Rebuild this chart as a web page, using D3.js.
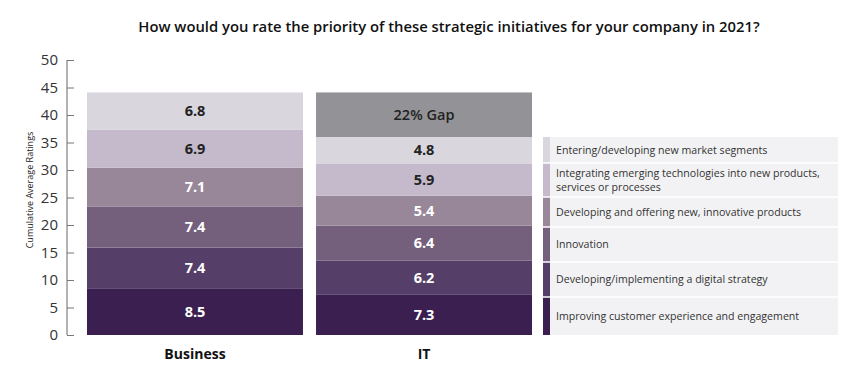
<!DOCTYPE html>
<html>
<head>
<meta charset="utf-8">
<script src="https://cdn.jsdelivr.net/npm/d3@7"></script>
<style>
  body { margin: 0; background: #fff; }
  text { font-family: "Open Sans", sans-serif; }
</style>
</head>
<body>
<svg id="chart" width="857" height="388"></svg>
<script>
// data, bottom segment first
var groups = ["Business", "IT"];
var initiatives = [
    "Improving customer experience and engagement",
    "Developing/implementing a digital strategy",
    "Innovation",
    "Developing and offering new, innovative products",
    "Integrating emerging technologies into new products,|services or processes",
    "Entering/developing new market segments"
];
var businessValues = [8.5, 7.4, 7.4, 7.1, 6.9, 6.8];
var itValues = [7.3, 6.2, 6.4, 5.4, 5.9, 4.8];
var gapLabel = "22% Gap";
var yTicks = [0, 5, 10, 15, 20, 25, 30, 35, 40, 45, 50];

var colors = ["#3a1f50", "#553e67", "#74607d", "#978799", "#c4bacb", "#d9d6de"];
var textColors = ["#fff", "#fff", "#fff", "#fff", "#222", "#222"];
var gapColor = "#939397";

var svg = d3.select("#chart");

var y = d3.scaleLinear().domain([0, 50]).range([335, 60]);
var x = d3.scaleBand().domain(groups).range([87, 532]).paddingInner(0.057).paddingOuter(0);

// title
svg.append("text")
    .attr("x", 449).attr("y", 32)
    .attr("text-anchor", "middle")
    .attr("font-size", 14.8).attr("font-weight", 600).attr("fill", "#111")
    .text("How would you rate the priority of these strategic initiatives for your company in 2021?");

// y axis
var yAxis = d3.axisRight(y).tickValues(yTicks).tickSize(7).tickFormat(d3.format("d"));
var ax = svg.append("g").attr("transform", "translate(67,0)").call(yAxis);
ax.select(".domain").attr("stroke", "#666").attr("d", "M0," + y(50) + "V" + y(0));
ax.selectAll(".tick line").attr("stroke", "#777");
ax.selectAll(".tick text")
    .attr("x", -9).attr("text-anchor", "end")
    .attr("font-size", 15).attr("fill", "#333")
    .style("font-family", "'Open Sans', sans-serif");

svg.append("text")
    .attr("transform", "translate(33," + 190 + ") rotate(-90)")
    .attr("text-anchor", "middle")
    .attr("font-size", 9).attr("fill", "#222")
    .text("Cumulative Average Ratings");

// stacked segments
function stack(vals) {
    var acc = 0;
    return vals.map(function(v, i) {
        var s = {i: i, v: v, y0: acc, y1: acc + v};
        acc += v;
        return s;
    });
}

var series = {Business: stack(businessValues), IT: stack(itValues)};
var bizTotal = d3.sum(businessValues);
var itTotal = d3.sum(itValues);

groups.forEach(function(g) {
    var gg = svg.append("g");
    var segs = series[g];
    gg.selectAll("rect")
        .data(segs)
        .join("rect")
        .attr("x", x(g))
        .attr("width", x.bandwidth())
        .attr("y", function(d) { return y(d.y1); })
        .attr("height", function(d) { return y(d.y0) - y(d.y1); })
        .attr("fill", function(d) { return colors[d.i]; });
    gg.selectAll("text")
        .data(segs)
        .join("text")
        .attr("x", x(g) + x.bandwidth() / 2)
        .attr("y", function(d) { return (y(d.y0) + y(d.y1)) / 2 + 5; })
        .attr("text-anchor", "middle")
        .attr("font-size", 14.5).attr("font-weight", 700)
        .attr("fill", function(d) { return textColors[d.i]; })
        .text(function(d) { return d3.format(".1f")(d.v); });

    svg.append("text")
        .attr("x", x(g) + x.bandwidth() / 2)
        .attr("y", 359)
        .attr("text-anchor", "middle")
        .attr("font-size", 14).attr("font-weight", 700).attr("fill", "#111")
        .text(g);
});

// gap block on IT
svg.append("rect")
    .attr("x", x("IT")).attr("width", x.bandwidth())
    .attr("y", y(bizTotal)).attr("height", y(itTotal) - y(bizTotal))
    .attr("fill", gapColor);
svg.append("text")
    .attr("x", x("IT") + x.bandwidth() / 2)
    .attr("y", (y(bizTotal) + y(itTotal)) / 2 + 5)
    .attr("text-anchor", "middle")
    .attr("font-size", 14.5).attr("font-weight", 600).attr("fill", "#222")
    .text(gapLabel);

// legend, top row first
var legendX = 543, legendW = 295, legendTop = 137;
var legendRowH = [26, 34, 30, 35, 35, 38];
var legend = svg.append("g");
var rowY = legendTop;
initiatives.slice().reverse().forEach(function(label, k) {
    var i = initiatives.length - 1 - k;
    var h = legendRowH[k];
    legend.append("rect")
        .attr("x", legendX).attr("y", rowY).attr("width", legendW).attr("height", h)
        .attr("fill", "#f2f2f4");
    legend.append("rect")
        .attr("x", legendX).attr("y", rowY).attr("width", 7).attr("height", h)
        .attr("fill", colors[i]);
    var lines = label.split("|");
    var t = legend.append("text")
        .attr("font-size", 10.6).attr("fill", "#333");
    lines.forEach(function(l, j) {
        t.append("tspan")
            .attr("x", legendX + 13)
            .attr("y", rowY + h / 2 + 3.8 + (j - (lines.length - 1) / 2) * 14)
            .text(l);
    });
    if (k > 0) {
        legend.append("line")
            .attr("x1", legendX).attr("x2", legendX + legendW)
            .attr("y1", rowY).attr("y2", rowY)
            .attr("stroke", "#fff").attr("stroke-width", 1.5);
    }
    rowY += h;
});
</script>
</body>
</html>
